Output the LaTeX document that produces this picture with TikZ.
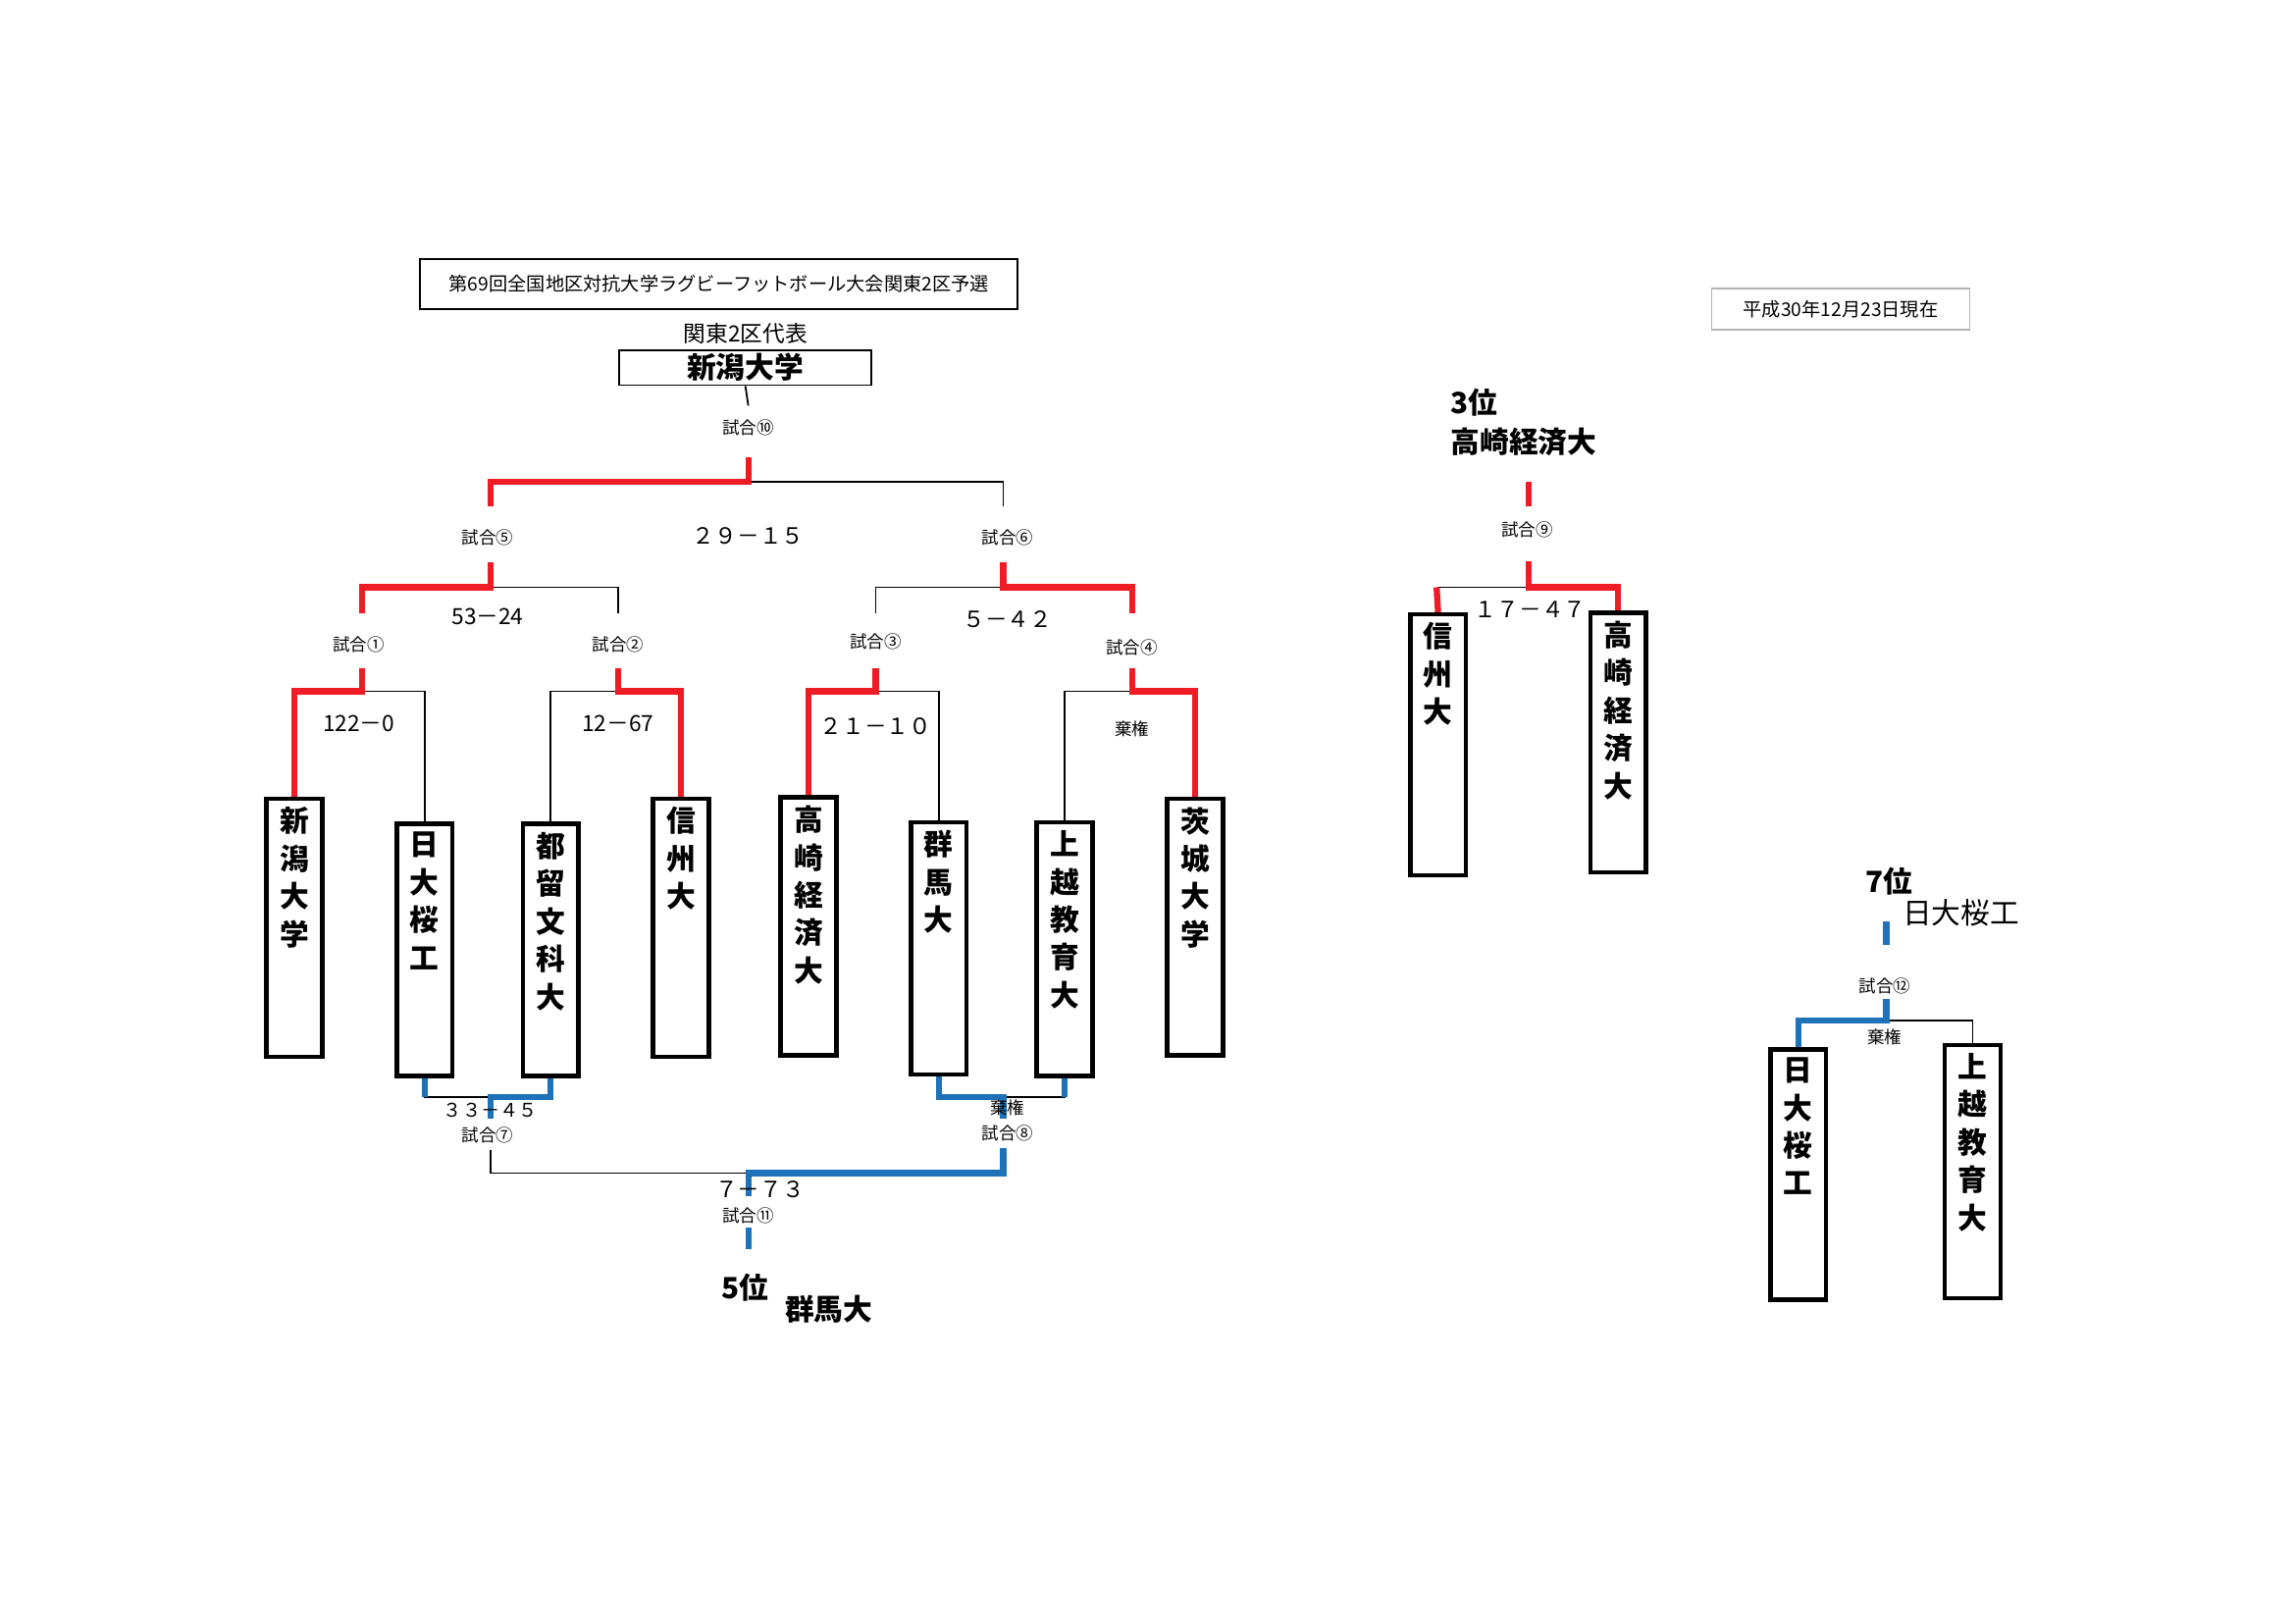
\documentclass[tikz,border=0pt]{standalone}
\usepackage{fontspec}
\setmainfont{Noto Sans CJK JP}
\definecolor{wred}{HTML}{EE1C25}
\definecolor{wblue}{HTML}{1F72B8}
\begin{document}
\begin{tikzpicture}[x=0.015cm,y=-0.015cm,
  team/.style={draw,line width=1.3pt,minimum width=0.57cm,anchor=north,inner sep=0pt},
  tl/.style={font=\fontsize{8.5}{11}\selectfont\bfseries,align=center,inner sep=0pt},
  thin/.style={line width=0.5pt,black},
  rd/.style={line width=1.8pt,wred},
  bl/.style={line width=1.8pt,wblue},
  lab/.style={font=\fontsize{5}{6}\selectfont,inner sep=0.5pt},
  sc/.style={font=\fontsize{6.5}{8}\selectfont,inner sep=0.5pt},
  bigt/.style={font=\fontsize{8.5}{10}\selectfont\bfseries,inner sep=0.5pt}]
\useasboundingbox (-2,-2) rectangle (1564.5,1106.8);
\newcommand\tm[5]{\node[team,minimum height=#4*0.015cm] (#1) at (#2,#3) {};
  \node[tl,anchor=north] at ([yshift=-0.1cm]#1.north) {#5};}
% title boxes
\node[draw,thin,minimum width=408*0.015cm,minimum height=34*0.015cm,font=\fontsize{5.5}{6}\selectfont] (title) at (489,192) {第69回全国地区対抗大学ラグビーフットボール大会関東2区予選};
\node[draw=gray!60,line width=0.4pt,minimum width=176*0.015cm,minimum height=28*0.015cm,font=\fontsize{5.5}{6}\selectfont] (date) at (1255,209) {平成30年12月23日現在\hspace{0.6cm}};
\node[font=\fontsize{6.5}{8}\selectfont,inner sep=0] (rep) at (507,226) {関東2区代表};
\node[draw,thin,minimum width=172*0.015cm,minimum height=24*0.015cm,font=\fontsize{8.5}{10}\selectfont\bfseries,inner sep=0] (champ) at (507,249) {新潟大学};
% teams
\tm{t1}{199}{542}{176}{新\\潟\\大\\学}
\tm{t2}{288}{559}{172}{日\\大\\桜\\工}
\tm{t3}{374}{559}{172}{都\\留\\文\\科\\大}
\tm{t4}{463}{542}{176}{信\\州\\大}
\tm{t5}{550}{541}{176}{高\\崎\\経\\済\\大}
\tm{t6}{639}{558}{172}{群\\馬\\大}
\tm{t7}{725}{558}{173}{上\\越\\教\\育\\大}
\tm{t8}{814}{542}{175}{茨\\城\\大\\学}
\tm{t9}{980}{416}{178}{信\\州\\大}
\tm{t10}{1103}{415}{177}{高\\崎\\経\\済\\大}
\tm{t11}{1226}{713}{171}{日\\大\\桜\\工}
\tm{t12}{1345}{710}{173}{上\\越\\教\\育\\大}
% junction coordinates
\coordinate (m1) at (245,470); \coordinate (m1t) at (245,454);
\coordinate (m2) at (420,470); \coordinate (m2t) at (420,454);
\coordinate (m3) at (596,470); \coordinate (m3t) at (596,454);
\coordinate (m4) at (771,470); \coordinate (m4t) at (771,454);
\coordinate (m5) at (333,399); \coordinate (m5t) at (333,382);
\coordinate (m6) at (683,399); \coordinate (m6t) at (683,382);
\coordinate (m5b) at (333,344); \coordinate (m6b) at (683,344);
\coordinate (m10) at (509,327); \coordinate (m10t) at (509,310);
\coordinate (m10u) at (509,275);
\coordinate (m9b) at (1042,327); \coordinate (m9c) at (1042,344);
\coordinate (m9) at (1042,399); \coordinate (m9t) at (1042,381);
\coordinate (m7) at (333,747); \coordinate (m7b) at (333,762);
\coordinate (m7d) at (333,783);
\coordinate (m8) at (683,747); \coordinate (m8b) at (683,762);
\coordinate (m8d) at (683,782);
\coordinate (m11) at (509,799); \coordinate (m11b) at (509,815);
\coordinate (m11d) at (509,836); \coordinate (m11e) at (509,851);
\coordinate (m12) at (1286,695); \coordinate (m12t) at (1286,680);
\coordinate (m12u) at (1286,643); \coordinate (m12v) at (1286,627);
% round 1
\draw[thin] (m1) -| (t2.north);
\draw[rd] (t1.north) |- (m1) -- (m1t);
\draw[thin] (m2) -| (t3.north);
\draw[rd] (t4.north) |- (m2) -- (m2t);
\draw[thin] (m3) -| (t6.north);
\draw[rd] (t5.north) |- (m3) -- (m3t);
\draw[thin] (m4) -| (t7.north);
\draw[rd] (t8.north) |- (m4) -- (m4t);
% round 2
\draw[thin] (m5) -| (420,417);
\draw[rd] (245,417) |- (m5) -- (m5t);
\draw[thin] (m6) -| (596,417);
\draw[rd] (771,417) |- (m6) -- (m6t);
% final
\draw[thin] (m10) -| (m6b);
\draw[rd] (m5b) |- (m10) -- (m10t);
\draw[thin] (m10u) -- (champ.south);
% 3rd place
\draw[thin] (m9) -| (t9.north);
\draw[rd] (979,399) -- (t9.north);
\draw[rd] (t10.north) |- (m9) -- (m9t);
\draw[rd] (m9b) -- (m9c);
% 5th place
\draw[thin] (m7) -| (t2.south);
\draw[bl] (t2.south) -- (288,747);
\draw[bl] (t3.south) |- (m7) -- (m7b);
\draw[thin] (m8) -| (t7.south);
\draw[bl] (t7.south) -- (725,747);
\draw[bl] (t6.south) |- (m8) -- (m8b);
\draw[thin] (m7d) |- (m11);
\draw[bl] (m8d) |- (m11) -- (m11b);
\draw[bl] (m11d) -- (m11e);
% 7th place
\draw[thin] (m12) -| (t12.north);
\draw[bl] (t11.north) |- (m12) -- (m12t);
\draw[bl] (m12u) -- (m12v);
% labels
\node[lab] at (509,290) {試合⑩};
\node[lab] at (331,365) {試合⑤};
\node[lab] at (686,365) {試合⑥};
\node[lab] at (243,438) {試合①};
\node[lab] at (420,438) {試合②};
\node[lab] at (596,436) {試合③};
\node[lab] at (771,440) {試合④};
\node[lab] at (331,773) {試合⑦};
\node[lab] at (686,772) {試合⑧};
\node[lab] at (509,828) {試合⑪};
\node[lab] at (1041,360) {試合⑨};
\node[lab] at (1285,671) {試合⑫};
\node[sc] at (509,364) {２９－１５};
\node[sc] at (331,419) {53－24};
\node[sc] at (686,421) {５－４２};
\node[sc] at (243,492) {122－0};
\node[sc] at (420,492) {12－67};
\node[sc] at (596,494) {２１－１０};
\node[lab] at (771,496) {棄権};
\node[sc,font=\fontsize{5.5}{6}\selectfont] at (333,756) {３３－４５};
\node[lab] at (686,754) {棄権};
\node[sc] at (517,810) {７－７３};
\node[sc] at (1043,414) {１７－４７};
\node[lab] at (1285,706) {棄権};
\node[bigt] at (507,877) {5位};
\node[bigt] at (564,892) {群馬大};
\node[bigt,anchor=west] at (987,273) {3位};
\node[bigt,anchor=west] at (987,300) {高崎経済大};
\node[bigt] at (1288,600) {7位};
\node[bigt,font=\fontsize{8.5}{10}\selectfont] at (1337,621) {日大桜工};
\end{tikzpicture}
\end{document}
